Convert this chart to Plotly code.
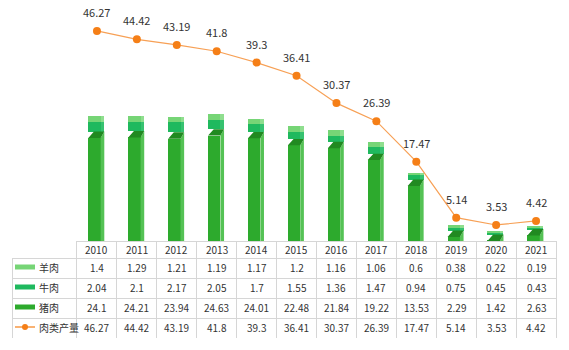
import plotly.graph_objects as go

years = ["2010", "2011", "2012", "2013", "2014", "2015", "2016", "2017", "2018", "2019", "2020", "2021"]
lamb = [1.4, 1.29, 1.21, 1.19, 1.17, 1.2, 1.16, 1.06, 0.6, 0.38, 0.22, 0.19]
beef = [2.04, 2.1, 2.17, 2.05, 1.7, 1.55, 1.36, 1.47, 0.94, 0.75, 0.45, 0.43]
pork = [24.1, 24.21, 23.94, 24.63, 24.01, 22.48, 21.84, 19.22, 13.53, 2.29, 1.42, 2.63]
total = [46.27, 44.42, 43.19, 41.8, 39.3, 36.41, 30.37, 26.39, 17.47, 5.14, 3.53, 4.42]
series_names = ["羊肉", "牛肉", "猪肉", "肉类产量"]

# style / geometry
C_LAMB, C_LAMB_S = "#76D576", "#8FDE8F"
C_BEEF, C_BEEF_S = "#1FB95E", "#36C270"
C_PORK, C_PORK_S, C_PORK_T = "#2DAA2D", "#55C255", "#218A21"
C_LINE, C_MARK = "#F7A055", "#F57F17"
FONT = "Noto Sans CJK SC"

FL, FR, SR = -0.217, 0.093, 0.184   # front-left, front-right, side-right (category units)
TL = -0.074                          # top face back-left
DY = 1.4                             # depth in y units

W, H = 569, 350
ML, MR, MT, MB = 12, 13, 0, 12
PW, PH = W - ML - MR, H - MT - MB
TABLE_TOP = 241
HEAD_H, ROW_H = 17, 20
def px_x(px): return (px - ML) / PW
def px_y(py): return (H - MB - py) / PH

x = list(range(len(years)))
fig = go.Figure()

pork_front = [max(p - DY, 0) for p in pork]
fig.add_trace(go.Bar(x=x, y=pork_front, base=0, width=FR - FL, offset=FL,
                     marker=dict(color=C_PORK, line=dict(width=0)), hoverinfo="skip", showlegend=False))
sx, sy, tx, ty = [], [], [], []
for i, p in enumerate(pork):
    pf = max(p - DY, 0)
    sx += [i + FR, i + SR, i + SR, i + FR, None]
    sy += [0, 0, p, pf, None]
    tx += [i + FL, i + TL, i + SR, i + FR, None]
    ty += [pf, p, p, pf, None]
fig.add_trace(go.Scatter(x=sx, y=sy, fill="toself", fillcolor=C_PORK_S, mode="none",
                         hoverinfo="skip", showlegend=False))
fig.add_trace(go.Scatter(x=tx, y=ty, fill="toself", fillcolor=C_PORK_T, mode="none",
                         hoverinfo="skip", showlegend=False))
fig.add_trace(go.Bar(x=x, y=beef, base=pork, width=FR - FL, offset=FL,
                     marker=dict(color=C_BEEF, line=dict(width=0)), hoverinfo="skip", showlegend=False))
fig.add_trace(go.Bar(x=x, y=beef, base=pork, width=SR - FR, offset=FR,
                     marker=dict(color=C_BEEF_S, line=dict(width=0)), hoverinfo="skip", showlegend=False))
lamb_base = [p + b for p, b in zip(pork, beef)]
fig.add_trace(go.Bar(x=x, y=lamb, base=lamb_base, width=FR - FL, offset=FL,
                     marker=dict(color=C_LAMB, line=dict(width=0)), hoverinfo="skip", showlegend=False))
fig.add_trace(go.Bar(x=x, y=lamb, base=lamb_base, width=SR - FR, offset=FR,
                     marker=dict(color=C_LAMB_S, line=dict(width=0)), hoverinfo="skip", showlegend=False))

fig.add_trace(go.Scatter(x=x, y=total, mode="lines+markers",
                         line=dict(color=C_LINE, width=1.2),
                         marker=dict(color=C_MARK, size=8), hoverinfo="skip", showlegend=False))
for i, v in enumerate(total):
    fig.add_annotation(x=i, y=v, text=str(v), showarrow=False, yshift=19,
                       font=dict(family=FONT, size=11, color="#333"))

# data table grid
n = len(years)
fig.add_trace(go.Table(
    domain=dict(x=[0, 1], y=[0, px_y(TABLE_TOP)]),
    columnwidth=[65] + [40] * n,
    header=dict(values=[""] * (n + 1), height=HEAD_H,
                fill=dict(color="white"),
                line=dict(color=["rgba(0,0,0,0)"] + ["#d6d6d6"] * n, width=1)),
    cells=dict(values=[[""] * 4 for _ in range(n + 1)], height=ROW_H,
               fill=dict(color="white"),
               line=dict(color="#d6d6d6", width=1)),
))

# table text
TFONT = dict(family=FONT, size=10, color="#333")
head_c = TABLE_TOP + HEAD_H / 2 - 0.5
row_centers = [TABLE_TOP + HEAD_H + ROW_H / 2 - 1 + ROW_H * k for k in range(4)]
for i, yr in enumerate(years):
    fig.add_annotation(x=i, xref="x", yref="paper", y=px_y(head_c), yanchor="middle",
                       text=yr, showarrow=False, font=TFONT)
rows = [lamb, beef, pork, total]
for k, row in enumerate(rows):
    for i, v in enumerate(row):
        fig.add_annotation(x=i, xref="x", yref="paper", y=px_y(row_centers[k]), yanchor="middle",
                           text=str(v), showarrow=False, font=TFONT)

swatch_cols = [C_LAMB, C_BEEF, C_PORK]
for k, name in enumerate(series_names):
    yc = row_centers[k]
    if k < 3:
        fig.add_shape(type="rect", xref="paper", yref="paper", layer="above",
                      x0=px_x(15), x1=px_x(35), y0=px_y(yc + 2.5), y1=px_y(yc - 2.5),
                      fillcolor=swatch_cols[k], line=dict(width=0))
    else:
        fig.add_shape(type="line", xref="paper", yref="paper", layer="above",
                      x0=px_x(15), x1=px_x(35), y0=px_y(yc), y1=px_y(yc),
                      line=dict(color=C_MARK, width=1.2))
        fig.add_shape(type="circle", xref="paper", yref="paper", layer="above",
                      x0=px_x(22), x1=px_x(28), y0=px_y(yc + 3), y1=px_y(yc - 3),
                      fillcolor=C_MARK, line=dict(width=0))
    fig.add_annotation(xref="paper", yref="paper", x=px_x(37), y=px_y(yc), xanchor="left",
                       yanchor="middle", text=name, showarrow=False, font=TFONT)

fig.update_layout(
    width=W, height=H, margin=dict(l=ML, r=MR, t=MT, b=MB),
    paper_bgcolor="white", plot_bgcolor="white",
    barmode="overlay", bargap=0,
    showlegend=False,
    xaxis=dict(domain=[65 / PW, 1], range=[-0.5, n - 0.5], visible=False, fixedrange=True),
    yaxis=dict(domain=[px_y(TABLE_TOP), 1], range=[0, TABLE_TOP / 4.54], visible=False, fixedrange=True),
    font=dict(family=FONT),
)

fig.write_html("out.html")
